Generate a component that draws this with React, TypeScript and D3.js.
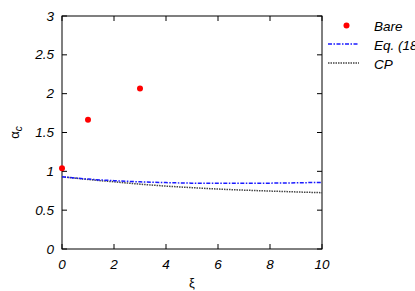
import React from "react";
import * as d3 from "d3";

const width = 415;
const height = 291;
const margin = { top: 16, right: 93, bottom: 42, left: 62 };

// Bare: sparse points
const bareXi = [0, 1, 3];
const bareAlpha = [1.04, 1.665, 2.065];

// Eq. (18) and CP curves
const curveXi = [0, 1, 2, 3, 4, 5, 6, 7, 8, 9, 10];
const eq18Alpha = [0.93, 0.9, 0.88, 0.865, 0.855, 0.848, 0.845, 0.845, 0.848, 0.852, 0.858];
const cpAlpha = [0.93, 0.895, 0.865, 0.835, 0.81, 0.79, 0.772, 0.758, 0.746, 0.735, 0.725];

const xTicks = [0, 2, 4, 6, 8, 10];
const yTicks = [0, 0.5, 1, 1.5, 2, 2.5, 3];

const legendItems = ["Bare", "Eq. (18)", "CP"];

const font = "'Liberation Sans', Arial, sans-serif";

export default function App() {
  const x = d3.scaleLinear().domain([0, 10]).range([margin.left, width - margin.right]);
  const y = d3.scaleLinear().domain([0, 3]).range([height - margin.bottom, margin.top]);

  const line = d3
    .line<[number, number]>()
    .x(d => x(d[0]))
    .y(d => y(d[1]))
    .curve(d3.curveMonotoneX);

  const eqPath = line(curveXi.map((v, i) => [v, eq18Alpha[i]]));
  const cpPath = line(curveXi.map((v, i) => [v, cpAlpha[i]]));

  const x0 = x(0);
  const x1 = x(10);
  const y0 = y(0);
  const y1 = y(3);
  const tick = 5;

  return (
    <svg
      width={width}
      height={height}
      style={{ position: "absolute", left: 0, top: 0, background: "#fff" }}
      fontFamily={font}
      fontStyle="italic"
    >
      {/* frame */}
      <rect x={x0} y={y1} width={x1 - x0} height={y0 - y1} fill="none" stroke="#000" strokeWidth={1} />

      {/* x ticks, mirrored */}
      {xTicks.map(t => (
        <g key={"x" + t}>
          <line x1={x(t)} x2={x(t)} y1={y0} y2={y0 - tick} stroke="#000" />
          <line x1={x(t)} x2={x(t)} y1={y1} y2={y1 + tick} stroke="#000" />
          <text x={x(t)} y={y0 + 20} textAnchor="middle" fontSize={13.5}>
            {t}
          </text>
        </g>
      ))}

      {/* y ticks, mirrored */}
      {yTicks.map(t => (
        <g key={"y" + t}>
          <line x1={x0} x2={x0 + tick} y1={y(t)} y2={y(t)} stroke="#000" />
          <line x1={x1} x2={x1 - tick} y1={y(t)} y2={y(t)} stroke="#000" />
          <text x={x0 - 8} y={y(t) + 4.5} textAnchor="end" fontSize={13.5}>
            {t}
          </text>
        </g>
      ))}

      {/* axis labels */}
      <text x={(x0 + x1) / 2} y={287} textAnchor="middle" fontSize={13} fontStyle="normal">
        ξ
      </text>
      <text transform={`translate(19,${(y0 + y1) / 2}) rotate(-90)`} textAnchor="middle" fontSize={13} fontStyle="normal">
        α<tspan fontSize={10} dy={3} fontStyle="italic">c</tspan>
      </text>

      {/* curves */}
      <path d={cpPath || ""} fill="none" stroke="#444" strokeWidth={1.5} strokeDasharray="1.5,1" />
      <path d={eqPath || ""} fill="none" stroke="#1a1aff" strokeWidth={1.5} strokeDasharray="4,1.5,1.5,1.5" />

      {/* Bare points */}
      {bareXi.map((v, i) => (
        <circle key={"b" + i} cx={x(v)} cy={y(bareAlpha[i])} r={3} fill="#f00" />
      ))}

      {/* legend */}
      <g>
        <circle cx={346.5} cy={25.5} r={3} fill="#f00" />
        <line x1={328} x2={359} y1={44} y2={44} stroke="#1a1aff" strokeWidth={1.5} strokeDasharray="4,1.5,1.5,1.5" />
        <line x1={328} x2={359} y1={63} y2={63} stroke="#444" strokeWidth={1.5} strokeDasharray="1.5,1" />
        {legendItems.map((s, i) => (
          <text key={s} x={374} y={30.5 + i * 19} fontSize={13.5}>
            {s}
          </text>
        ))}
      </g>
    </svg>
  );
}
